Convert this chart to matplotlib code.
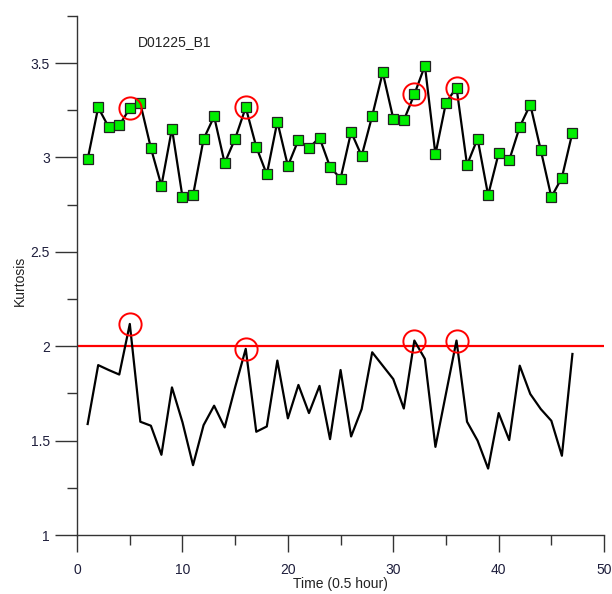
import matplotlib.pyplot as plt
from matplotlib.ticker import MultipleLocator

plt.rcParams["font.family"] = ["Liberation Sans", "DejaVu Sans"]

# sample index, one every half hour
time = list(range(1, 48))

# kurtosis of the raw signal (green squares)
kurt_raw = [2.99, 3.265, 3.16, 3.17, 3.26, 3.286, 3.05, 2.85, 3.153, 2.79,
            2.80, 3.097, 3.217, 2.97, 3.10, 3.265, 3.056, 2.91, 3.19, 2.955,
            3.093, 3.05, 3.105, 2.95, 2.888, 3.135, 3.008, 3.22, 3.45, 3.206,
            3.197, 3.334, 3.486, 3.017, 3.29, 3.37, 2.96, 3.10, 2.80, 3.022,
            2.985, 3.162, 3.28, 3.038, 2.79, 2.893, 3.132]

# kurtosis after filtering (black line)
kurt_filt = [1.588, 1.90, 1.874, 1.85, 2.118, 1.60, 1.579, 1.425, 1.782, 1.597,
             1.37, 1.582, 1.685, 1.57, 1.784, 1.986, 1.547, 1.575, 1.924, 1.618,
             1.795, 1.646, 1.79, 1.508, 1.874, 1.522, 1.667, 1.968, 1.897, 1.826,
             1.67, 2.03, 1.933, 1.467, 1.749, 2.03, 1.60, 1.50, 1.352, 1.646,
             1.503, 1.897, 1.747, 1.667, 1.605, 1.42, 1.959]

threshold = 2.0
flagged = [5, 16, 32, 36]
title = "D01225_B1"

fig = plt.figure(figsize=(6.12, 5.94), dpi=100)
ax = fig.add_axes([0.126, 0.0993, 0.861, 0.874])

ax.axhline(threshold, color="#ff0000", lw=1.6, zorder=2)

ax.plot(time, kurt_filt, color="black", lw=1.6, zorder=3)
ax.plot(time, kurt_raw, color="black", lw=1.6, marker="s", ms=7.2,
        mfc="#00ee00", mec="#222222", mew=0.9, zorder=4)

# circle the flagged samples on both curves
fx = [t for t in flagged]
ax.plot(fx, [kurt_raw[t - 1] for t in fx], ls="none", marker="o", ms=16,
        mfc="none", mec="#ff0000", mew=1.4, zorder=5)
ax.plot(fx, [kurt_filt[t - 1] for t in fx], ls="none", marker="o", ms=16,
        mfc="none", mec="#ff0000", mew=1.4, zorder=5)

ax.text(9.3, 3.61, title, ha="center", va="center", fontsize=10, color="#222222")

ax.set_xlim(0, 50)
ax.set_ylim(1, 3.75)
ax.xaxis.set_major_locator(MultipleLocator(10))
ax.xaxis.set_minor_locator(MultipleLocator(5))
ax.yaxis.set_major_locator(MultipleLocator(0.5))
ax.yaxis.set_minor_locator(MultipleLocator(0.25))
ax.yaxis.set_major_formatter(plt.FuncFormatter(lambda v, p: f"{v:g}"))

for side in ["top", "right"]:
    ax.spines[side].set_visible(False)
for side in ["left", "bottom"]:
    ax.spines[side].set_linewidth(1.0)
    ax.spines[side].set_color("#333333")

ax.tick_params(which="major", direction="out", length=12, width=1.0,
               color="#333333", labelsize=10, labelcolor="#1e1e3c")
ax.tick_params(which="minor", direction="out", length=7, width=1.0,
               color="#333333")
ax.tick_params(axis="y", which="major", length=16)
ax.tick_params(axis="x", which="major", pad=8)

ax.set_xlabel("Time (0.5 hour)", fontsize=10, color="#222222", labelpad=0)
ax.set_ylabel("Kurtosis", fontsize=10, color="#222222", labelpad=8)
ax.yaxis.set_label_coords(-0.095, 0.49)

fig.savefig("out.png", dpi=100)
